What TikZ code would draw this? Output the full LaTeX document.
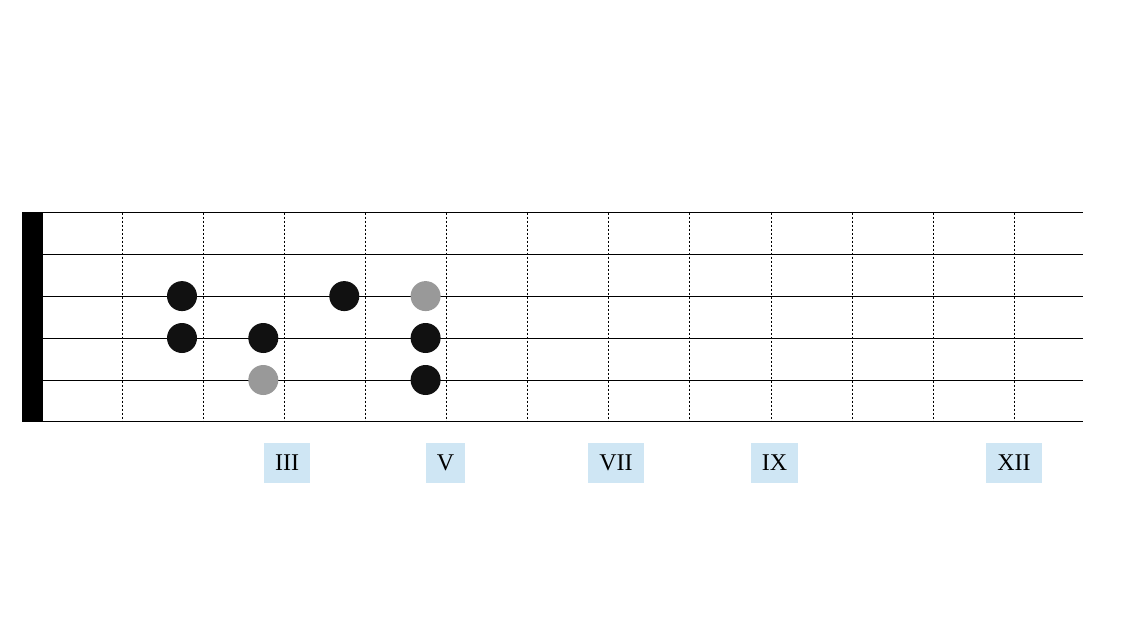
\documentclass[tikz,border=0pt]{standalone}
\usepackage{fontspec}
\setmainfont{Liberation Serif}
\definecolor{boxblue}{RGB}{207,230,244}
\definecolor{dotblack}{RGB}{17,17,17}
\definecolor{dotgray}{RGB}{153,153,153}
\tikzset{
  stringline/.style={line width=1pt, black},
  fretline/.style={line width=0.9pt, black, dash pattern=on 2pt off 2pt},
  fingerdot/.style={circle, fill=dotblack, minimum size=30pt, inner sep=0pt},
  rootdot/.style={circle, fill=dotgray, minimum size=30pt, inner sep=0pt},
  fretlabel/.style={fill=boxblue, minimum height=40pt, inner xsep=11pt, inner ysep=0pt, font=\fontsize{24pt}{28pt}\selectfont, text depth=0pt, anchor=center}
}
\begin{document}
\begin{tikzpicture}[x=1pt,y=-1pt]
\useasboundingbox (0,0) rectangle (1123,632);
% nut
\fill[black] (22,212) rectangle (42.5,421.5);
% strings
\foreach \i/\y in {1/212.5,2/254.3,3/296.1,4/338,5/380,6/421} {
  \coordinate (s\i l) at (42.5,\y);
  \coordinate (s\i r) at (1083,\y);
  \draw[stringline] (s\i l) -- (s\i r);
}
% frets
\foreach \k in {1,...,12} {
  \pgfmathsetmacro{\fx}{122.3+81.09*(\k-1)}
  \coordinate (f\k t) at (\fx,212.5);
  \coordinate (f\k b) at (\fx,421);
  \draw[fretline] (f\k t) -- (f\k b);
}
% dots
\node[fingerdot] (d1) at (182,296.1) {};
\node[fingerdot] (d2) at (182,338) {};
\node[fingerdot] (d3) at (263.3,338) {};
\node[rootdot]   (d4) at (263.3,380) {};
\node[fingerdot] (d5) at (344.3,296.1) {};
\node[rootdot]   (d6) at (425.6,296.1) {};
\node[fingerdot] (d7) at (425.6,338) {};
\node[fingerdot] (d8) at (425.6,380) {};
% labels
\node[fretlabel] (l3) at (287,463) {III};
\node[fretlabel] (l5) at (445.5,463) {V};
\node[fretlabel] (l7) at (616,463) {VII};
\node[fretlabel] (l9) at (774.5,463) {IX};
\node[fretlabel] (l12) at (1014,463) {XII};
\end{tikzpicture}
\end{document}
